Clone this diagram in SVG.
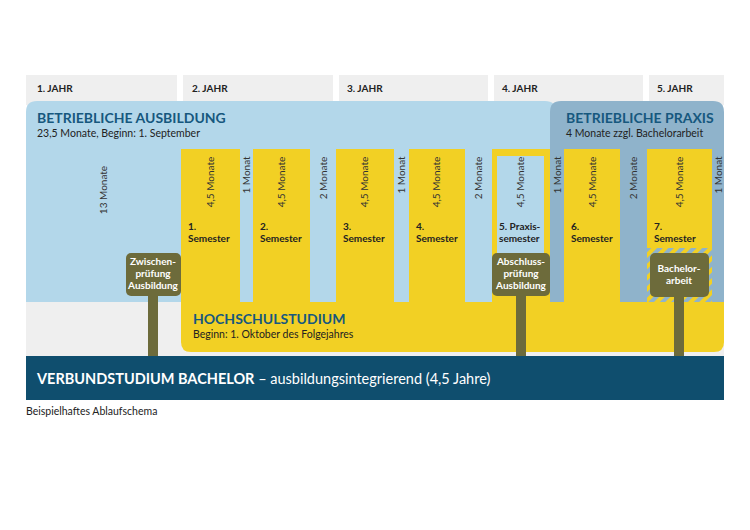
<svg xmlns="http://www.w3.org/2000/svg" width="750" height="530" viewBox="0 0 750 530">
<style>
text{font-family:Lato,"Open Sans",sans-serif}
.yr{font-size:10px;font-weight:bold;fill:#222}
.h{font-size:14px;font-weight:bold;fill:#16587e}
.s{font-size:10.5px;fill:#222}
.v{font-size:10px;fill:#333}
.sem{font-size:10px;font-weight:bold;fill:#222}
.bx{font-size:10px;font-weight:bold;fill:#fff}
.y{fill:#f2d024}.lb{fill:#b3d7ea}.db{fill:#8fb3cb}.ol{fill:#6d6b3b}
</style>
<defs>
<pattern id="hatch" width="8" height="8" patternUnits="userSpaceOnUse" patternTransform="rotate(45)">
<rect width="8" height="8" fill="#f2d024"/><rect width="4" height="8" fill="#8fb3cb"/>
</pattern>
</defs>
<rect width="750" height="530" fill="#fff"/>
<g id="years">
<rect x="26" y="75" width="151" height="30" fill="#efefef"/><text class="yr" x="37" y="92">1. JAHR</text>
<rect x="183" y="75" width="150" height="30" fill="#efefef"/><text class="yr" x="192" y="92">2. JAHR</text>
<rect x="339" y="75" width="149" height="30" fill="#efefef"/><text class="yr" x="347" y="92">3. JAHR</text>
<rect x="494" y="75" width="149" height="30" fill="#efefef"/><text class="yr" x="502" y="92">4. JAHR</text>
<rect x="649" y="75" width="75" height="30" fill="#efefef"/><text class="yr" x="657" y="92">5. JAHR</text>
</g>
<rect x="26" y="290" width="698" height="66" fill="#efefef"/>
<g id="ausbildung">
<path class="lb" d="M26,112 Q26,101 37,101 H545 Q556,101 556,112 V302 H26 Z"/>
<text class="h" x="37" y="123">BETRIEBLICHE AUSBILDUNG</text>
<text class="s" x="37" y="137">23,5 Monate, Beginn: 1. September</text>
</g>
<g id="praxis">
<path class="db" d="M550,112 Q550,101 561,101 H713 Q724,101 724,112 V302 H550 Z"/>
<text class="h" x="566" y="123">BETRIEBLICHE PRAXIS</text>
<text class="s" x="566" y="137">4 Monate zzgl. Bachelorarbeit</text>
</g>
<g id="hochschule">
<path class="y" d="M181,302 H724 V342 Q724,352 714,352 H191 Q181,352 181,342 Z"/>
<rect class="y" x="181" y="149" width="59" height="154"/>
<rect class="y" x="253" y="149" width="57" height="154"/>
<rect class="y" x="336" y="149" width="58" height="154"/>
<rect class="y" x="409" y="149" width="56" height="154"/>
<rect class="y" x="492" y="149" width="58" height="154"/>
<rect class="lb" x="497" y="156" width="47" height="100"/>
<rect class="y" x="564" y="149" width="56" height="154"/>
<rect class="y" x="647" y="149" width="65" height="154"/>
<text class="h" x="193" y="324">HOCHSCHULSTUDIUM</text>
<text class="s" x="193" y="338">Beginn: 1. Oktober des Folgejahres</text>
</g>
<g id="durations">
<text class="v" transform="translate(107,190) rotate(-90)" text-anchor="middle">13 Monate</text>
<text class="v" transform="translate(214,182) rotate(-90)" text-anchor="middle">4,5 Monate</text>
<text class="v" transform="translate(250,175) rotate(-90)" text-anchor="middle">1 Monat</text>
<text class="v" transform="translate(285,182) rotate(-90)" text-anchor="middle">4,5 Monate</text>
<text class="v" transform="translate(327,178) rotate(-90)" text-anchor="middle">2 Monate</text>
<text class="v" transform="translate(368,182) rotate(-90)" text-anchor="middle">4,5 Monate</text>
<text class="v" transform="translate(405,175) rotate(-90)" text-anchor="middle">1 Monat</text>
<text class="v" transform="translate(440,182) rotate(-90)" text-anchor="middle">4,5 Monate</text>
<text class="v" transform="translate(482,178) rotate(-90)" text-anchor="middle">2 Monate</text>
<text class="v" transform="translate(524,182) rotate(-90)" text-anchor="middle">4,5 Monate</text>
<text class="v" transform="translate(561,175) rotate(-90)" text-anchor="middle">1 Monat</text>
<text class="v" transform="translate(596,182) rotate(-90)" text-anchor="middle">4,5 Monate</text>
<text class="v" transform="translate(637,178) rotate(-90)" text-anchor="middle">2 Monate</text>
<text class="v" transform="translate(683,182) rotate(-90)" text-anchor="middle">4,5 Monate</text>
<text class="v" transform="translate(722,175) rotate(-90)" text-anchor="middle">1 Monat</text>
</g>
<g id="semesters">
<text class="sem" x="188" y="230">1.</text><text class="sem" x="188" y="242">Semester</text>
<text class="sem" x="260" y="230">2.</text><text class="sem" x="260" y="242">Semester</text>
<text class="sem" x="343" y="230">3.</text><text class="sem" x="343" y="242">Semester</text>
<text class="sem" x="416" y="230">4.</text><text class="sem" x="416" y="242">Semester</text>
<text class="sem" x="499" y="230">5. Praxis-</text><text class="sem" x="499" y="242">semester</text>
<text class="sem" x="571" y="230">6.</text><text class="sem" x="571" y="242">Semester</text>
<text class="sem" x="654" y="230">7.</text><text class="sem" x="654" y="242">Semester</text>
</g>
<g id="bachelor-frame"><rect x="647" y="248" width="65" height="54" fill="url(#hatch)"/></g>
<g id="zwischen">
<rect class="ol" x="148" y="290" width="10" height="66"/>
<rect class="ol" x="126" y="253" width="55" height="43" rx="5"/>
<text class="bx" text-anchor="middle"><tspan x="153" y="265">Zwischen-</tspan><tspan x="153" y="277">prüfung</tspan><tspan x="153" y="289">Ausbildung</tspan></text>
</g>
<g id="abschluss">
<rect class="ol" x="516" y="290" width="10" height="66"/>
<rect class="ol" x="492" y="253" width="58" height="43" rx="5"/>
<text class="bx" text-anchor="middle"><tspan x="521" y="265">Abschluss-</tspan><tspan x="521" y="277">prüfung</tspan><tspan x="521" y="289">Ausbildung</tspan></text>
</g>
<g id="bachelorarbeit">
<rect class="ol" x="674" y="290" width="10" height="66"/>
<rect class="ol" x="650" y="253" width="59" height="44" rx="5"/>
<text class="bx" text-anchor="middle"><tspan x="679" y="272">Bachelor-</tspan><tspan x="679" y="284">arbeit</tspan></text>
</g>
<g id="footer">
<rect x="26" y="356" width="698" height="44" fill="#0f4e6e"/>
<text x="37" y="384" font-size="14.5" fill="#fff"><tspan font-weight="bold">VERBUNDSTUDIUM BACHELOR</tspan> – ausbildungsintegrierend (4,5 Jahre)</text>
<text x="26" y="415" font-size="10.5" fill="#222">Beispielhaftes Ablaufschema</text>
</g>
<g id="connectors"/>
</svg>
